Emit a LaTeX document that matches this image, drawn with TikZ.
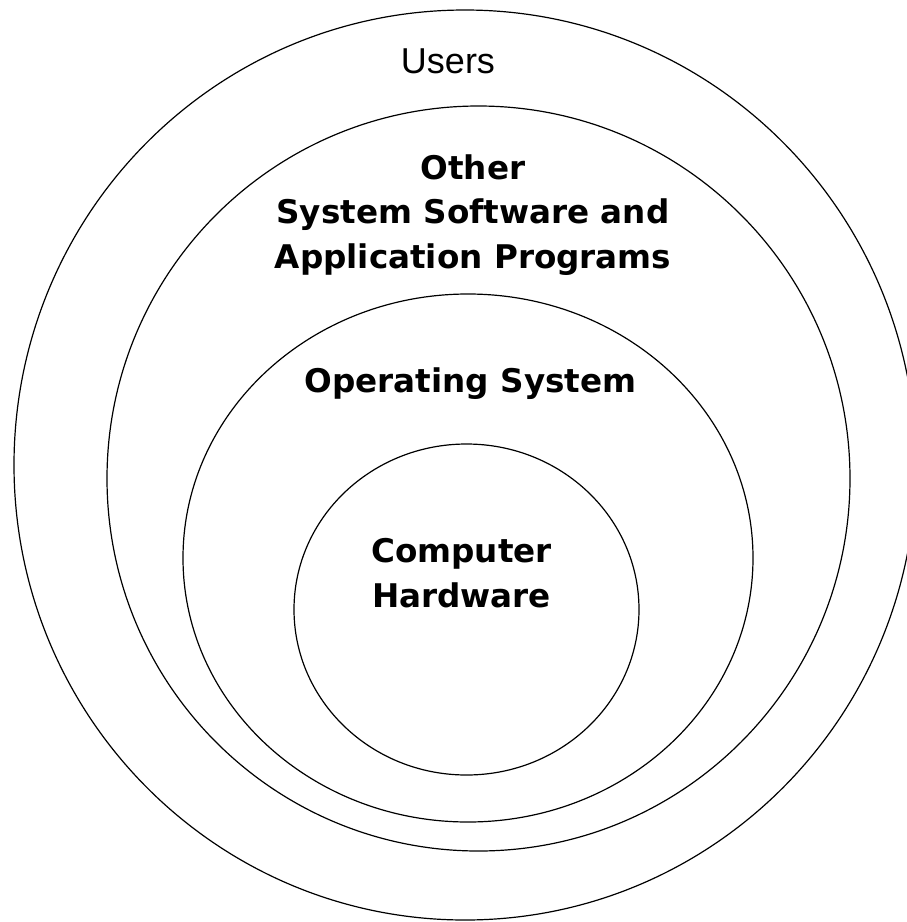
\documentclass[tikz,border=0pt]{standalone}
\usepackage{fontspec}
\setmainfont{Liberation Sans}
\newfontfamily\dvs{DejaVu Sans}
\usetikzlibrary{shapes.geometric}
\tikzset{
  ring/.style={draw=black, line width=1.2pt, ellipse, inner sep=0pt},
  layerlabel/.style={font=\dvs\bfseries\fontsize{32.6}{44.5}\selectfont, align=center, inner sep=0pt, anchor=base},
  userlabel/.style={font=\fontsize{36}{40}\selectfont, inner sep=0pt, anchor=base}
}
\begin{document}
\begin{tikzpicture}[x=1pt,y=-1pt]
\useasboundingbox (0,0) rectangle (907,922);
\clip (0,0) rectangle (907,922);
\node[ring, minimum width=902pt, minimum height=910pt] (users) at (465,465) {};
\node[ring, minimum width=743pt, minimum height=745pt] (apps) at (478.5,478.5) {};
\node[ring, minimum width=570pt, minimum height=528pt] (os) at (468,558) {};
\node[ring, minimum width=345pt, minimum height=331pt] (hw) at (466.5,609.5) {};
\node[userlabel] (tusers) at (448,73) {Users};
\node[layerlabel] (tapps) at (473,268) {Other\\System Software and\\Application Programs};
\node[layerlabel] (tos) at (470.5,392) {Operating System};
\node[layerlabel] (thw) at (461.5,607) {Computer\\Hardware};
\end{tikzpicture}
\end{document}
